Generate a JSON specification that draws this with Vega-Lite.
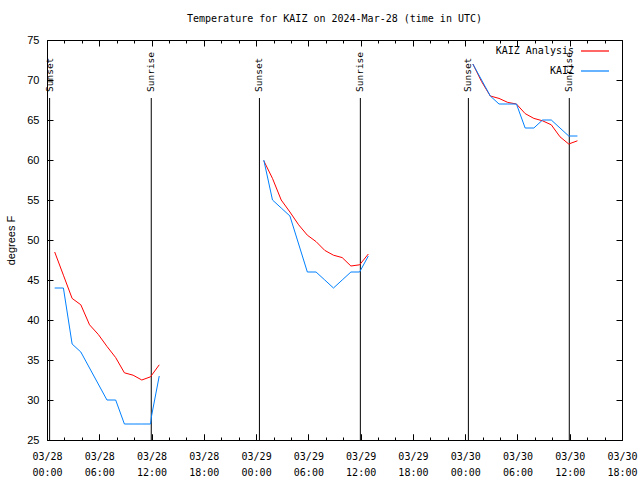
{
  "$schema": "https://vega.github.io/schema/vega-lite/v6.json",
  "autosize": {"type": "none"},
  "padding": {"left": 47, "top": 40, "right": 18, "bottom": 40},
  "width": 575,
  "height": 400,
  "background": "white",
  "config": {
    "view": {"stroke": "black", "strokeWidth": 1},
    "font": "DejaVu Sans Mono",
    "axis": {"domainColor": "black", "tickColor": "black", "labelColor": "black", "titleColor": "black", "grid": false}
  },
  "title": {"text": "Temperature for KAIZ on 2024-Mar-28 (time in UTC)", "font": "DejaVu Sans Mono", "fontSize": 10, "fontWeight": "normal", "anchor": "middle", "offset": 10, "color": "black"},
  "datasets": {
    "temps": [
      {"t": "2024-03-28T00:53:00Z", "temp": 48.5, "series": "KAIZ Analysis", "seg": 1},
      {"t": "2024-03-28T01:53:00Z", "temp": 45.6, "series": "KAIZ Analysis", "seg": 1},
      {"t": "2024-03-28T02:53:00Z", "temp": 42.7, "series": "KAIZ Analysis", "seg": 1},
      {"t": "2024-03-28T03:53:00Z", "temp": 41.9, "series": "KAIZ Analysis", "seg": 1},
      {"t": "2024-03-28T04:53:00Z", "temp": 39.4, "series": "KAIZ Analysis", "seg": 1},
      {"t": "2024-03-28T05:53:00Z", "temp": 38.2, "series": "KAIZ Analysis", "seg": 1},
      {"t": "2024-03-28T06:53:00Z", "temp": 36.7, "series": "KAIZ Analysis", "seg": 1},
      {"t": "2024-03-28T07:53:00Z", "temp": 35.3, "series": "KAIZ Analysis", "seg": 1},
      {"t": "2024-03-28T08:53:00Z", "temp": 33.4, "series": "KAIZ Analysis", "seg": 1},
      {"t": "2024-03-28T09:53:00Z", "temp": 33.1, "series": "KAIZ Analysis", "seg": 1},
      {"t": "2024-03-28T10:53:00Z", "temp": 32.5, "series": "KAIZ Analysis", "seg": 1},
      {"t": "2024-03-28T11:53:00Z", "temp": 32.9, "series": "KAIZ Analysis", "seg": 1},
      {"t": "2024-03-28T12:53:00Z", "temp": 34.4, "series": "KAIZ Analysis", "seg": 1},
      {"t": "2024-03-29T00:53:00Z", "temp": 59.9, "series": "KAIZ Analysis", "seg": 2},
      {"t": "2024-03-29T01:53:00Z", "temp": 57.7, "series": "KAIZ Analysis", "seg": 2},
      {"t": "2024-03-29T02:53:00Z", "temp": 55.0, "series": "KAIZ Analysis", "seg": 2},
      {"t": "2024-03-29T03:53:00Z", "temp": 53.5, "series": "KAIZ Analysis", "seg": 2},
      {"t": "2024-03-29T04:53:00Z", "temp": 51.9, "series": "KAIZ Analysis", "seg": 2},
      {"t": "2024-03-29T05:53:00Z", "temp": 50.6, "series": "KAIZ Analysis", "seg": 2},
      {"t": "2024-03-29T06:53:00Z", "temp": 49.8, "series": "KAIZ Analysis", "seg": 2},
      {"t": "2024-03-29T07:53:00Z", "temp": 48.7, "series": "KAIZ Analysis", "seg": 2},
      {"t": "2024-03-29T08:53:00Z", "temp": 48.1, "series": "KAIZ Analysis", "seg": 2},
      {"t": "2024-03-29T09:53:00Z", "temp": 47.8, "series": "KAIZ Analysis", "seg": 2},
      {"t": "2024-03-29T10:53:00Z", "temp": 46.75, "series": "KAIZ Analysis", "seg": 2},
      {"t": "2024-03-29T11:53:00Z", "temp": 46.9, "series": "KAIZ Analysis", "seg": 2},
      {"t": "2024-03-29T12:53:00Z", "temp": 48.25, "series": "KAIZ Analysis", "seg": 2},
      {"t": "2024-03-30T00:53:00Z", "temp": 72.0, "series": "KAIZ Analysis", "seg": 3},
      {"t": "2024-03-30T01:53:00Z", "temp": 69.8, "series": "KAIZ Analysis", "seg": 3},
      {"t": "2024-03-30T02:53:00Z", "temp": 68.0, "series": "KAIZ Analysis", "seg": 3},
      {"t": "2024-03-30T03:53:00Z", "temp": 67.7, "series": "KAIZ Analysis", "seg": 3},
      {"t": "2024-03-30T04:53:00Z", "temp": 67.2, "series": "KAIZ Analysis", "seg": 3},
      {"t": "2024-03-30T05:53:00Z", "temp": 67.0, "series": "KAIZ Analysis", "seg": 3},
      {"t": "2024-03-30T06:53:00Z", "temp": 65.8, "series": "KAIZ Analysis", "seg": 3},
      {"t": "2024-03-30T07:53:00Z", "temp": 65.2, "series": "KAIZ Analysis", "seg": 3},
      {"t": "2024-03-30T08:53:00Z", "temp": 64.9, "series": "KAIZ Analysis", "seg": 3},
      {"t": "2024-03-30T09:53:00Z", "temp": 64.4, "series": "KAIZ Analysis", "seg": 3},
      {"t": "2024-03-30T10:53:00Z", "temp": 62.9, "series": "KAIZ Analysis", "seg": 3},
      {"t": "2024-03-30T11:53:00Z", "temp": 62.0, "series": "KAIZ Analysis", "seg": 3},
      {"t": "2024-03-30T12:53:00Z", "temp": 62.4, "series": "KAIZ Analysis", "seg": 3},
      {"t": "2024-03-28T00:53:00Z", "temp": 44, "series": "KAIZ", "seg": 1},
      {"t": "2024-03-28T01:53:00Z", "temp": 44, "series": "KAIZ", "seg": 1},
      {"t": "2024-03-28T02:53:00Z", "temp": 37, "series": "KAIZ", "seg": 1},
      {"t": "2024-03-28T03:53:00Z", "temp": 36, "series": "KAIZ", "seg": 1},
      {"t": "2024-03-28T04:53:00Z", "temp": 34, "series": "KAIZ", "seg": 1},
      {"t": "2024-03-28T05:53:00Z", "temp": 32, "series": "KAIZ", "seg": 1},
      {"t": "2024-03-28T06:53:00Z", "temp": 30, "series": "KAIZ", "seg": 1},
      {"t": "2024-03-28T07:53:00Z", "temp": 30, "series": "KAIZ", "seg": 1},
      {"t": "2024-03-28T08:53:00Z", "temp": 27, "series": "KAIZ", "seg": 1},
      {"t": "2024-03-28T09:53:00Z", "temp": 27, "series": "KAIZ", "seg": 1},
      {"t": "2024-03-28T10:53:00Z", "temp": 27, "series": "KAIZ", "seg": 1},
      {"t": "2024-03-28T11:53:00Z", "temp": 27, "series": "KAIZ", "seg": 1},
      {"t": "2024-03-28T12:00:00Z", "temp": 28, "series": "KAIZ", "seg": 1},
      {"t": "2024-03-28T12:53:00Z", "temp": 33, "series": "KAIZ", "seg": 1},
      {"t": "2024-03-29T00:53:00Z", "temp": 60, "series": "KAIZ", "seg": 2},
      {"t": "2024-03-29T01:53:00Z", "temp": 55, "series": "KAIZ", "seg": 2},
      {"t": "2024-03-29T02:53:00Z", "temp": 54, "series": "KAIZ", "seg": 2},
      {"t": "2024-03-29T03:53:00Z", "temp": 53, "series": "KAIZ", "seg": 2},
      {"t": "2024-03-29T04:53:00Z", "temp": 49.5, "series": "KAIZ", "seg": 2},
      {"t": "2024-03-29T05:53:00Z", "temp": 46, "series": "KAIZ", "seg": 2},
      {"t": "2024-03-29T06:53:00Z", "temp": 46, "series": "KAIZ", "seg": 2},
      {"t": "2024-03-29T07:53:00Z", "temp": 45, "series": "KAIZ", "seg": 2},
      {"t": "2024-03-29T08:53:00Z", "temp": 44, "series": "KAIZ", "seg": 2},
      {"t": "2024-03-29T09:53:00Z", "temp": 45, "series": "KAIZ", "seg": 2},
      {"t": "2024-03-29T10:53:00Z", "temp": 46, "series": "KAIZ", "seg": 2},
      {"t": "2024-03-29T11:53:00Z", "temp": 46, "series": "KAIZ", "seg": 2},
      {"t": "2024-03-29T12:53:00Z", "temp": 48, "series": "KAIZ", "seg": 2},
      {"t": "2024-03-30T00:53:00Z", "temp": 72, "series": "KAIZ", "seg": 3},
      {"t": "2024-03-30T01:53:00Z", "temp": 70, "series": "KAIZ", "seg": 3},
      {"t": "2024-03-30T02:53:00Z", "temp": 68, "series": "KAIZ", "seg": 3},
      {"t": "2024-03-30T03:53:00Z", "temp": 67, "series": "KAIZ", "seg": 3},
      {"t": "2024-03-30T04:53:00Z", "temp": 67, "series": "KAIZ", "seg": 3},
      {"t": "2024-03-30T05:53:00Z", "temp": 67, "series": "KAIZ", "seg": 3},
      {"t": "2024-03-30T06:53:00Z", "temp": 64, "series": "KAIZ", "seg": 3},
      {"t": "2024-03-30T07:53:00Z", "temp": 64, "series": "KAIZ", "seg": 3},
      {"t": "2024-03-30T08:53:00Z", "temp": 65, "series": "KAIZ", "seg": 3},
      {"t": "2024-03-30T09:53:00Z", "temp": 65, "series": "KAIZ", "seg": 3},
      {"t": "2024-03-30T10:53:00Z", "temp": 64, "series": "KAIZ", "seg": 3},
      {"t": "2024-03-30T11:53:00Z", "temp": 63, "series": "KAIZ", "seg": 3},
      {"t": "2024-03-30T12:53:00Z", "temp": 63, "series": "KAIZ", "seg": 3}
    ],
    "sun": [
      {"t": "2024-03-28T00:18:00Z", "label": "Sunset"},
      {"t": "2024-03-28T11:58:00Z", "label": "Sunrise"},
      {"t": "2024-03-29T00:23:00Z", "label": "Sunset"},
      {"t": "2024-03-29T11:58:00Z", "label": "Sunrise"},
      {"t": "2024-03-30T00:22:00Z", "label": "Sunset"},
      {"t": "2024-03-30T11:57:00Z", "label": "Sunrise"}
    ]
  },
  "resolve": {"axis": {"x": "independent", "y": "independent"}},
  "layer": [
    {
      "data": {"name": "sun"},
      "mark": {"type": "rule", "color": "black", "strokeWidth": 1},
      "encoding": {
        "x": {"field": "t", "type": "temporal",
          "axis": {"orient": "top", "labels": false, "title": null, "domain": false, "tickSize": -6,
            "values": [1711584000000, 1711605600000, 1711627200000, 1711648800000, 1711670400000, 1711692000000, 1711713600000, 1711735200000, 1711756800000, 1711778400000, 1711800000000, 1711821600000]}},
        "y": {"datum": 25, "type": "quantitative", "axis": null},
        "y2": {"datum": 67.75}
      }
    },
    {
      "data": {"name": "sun"},
      "mark": {"type": "rule", "color": "black", "strokeWidth": 1, "strokeOpacity": 0},
      "encoding": {
        "x": {"field": "t", "type": "temporal",
          "axis": {"orient": "bottom", "labels": false, "title": null, "domain": false, "tickSize": -3,
            "values": [1711584000000, 1711591200000, 1711598400000, 1711605600000, 1711612800000, 1711620000000, 1711627200000, 1711634400000, 1711641600000, 1711648800000, 1711656000000, 1711663200000, 1711670400000, 1711677600000, 1711684800000, 1711692000000, 1711699200000, 1711706400000, 1711713600000, 1711720800000, 1711728000000, 1711735200000, 1711742400000, 1711749600000, 1711756800000, 1711764000000, 1711771200000, 1711778400000, 1711785600000, 1711792800000, 1711800000000, 1711807200000, 1711814400000, 1711821600000]}},
        "y": {"datum": 25, "type": "quantitative", "axis": null},
        "y2": {"datum": 67.75}
      }
    },
    {
      "data": {"name": "sun"},
      "mark": {"type": "text", "angle": 270, "align": "left", "baseline": "middle", "font": "DejaVu Sans Mono", "fontSize": 9.5, "color": "black"},
      "encoding": {
        "x": {"field": "t", "type": "temporal",
          "axis": {"orient": "top", "labels": false, "title": null, "domain": false, "tickSize": -3,
            "values": [1711584000000, 1711591200000, 1711598400000, 1711605600000, 1711612800000, 1711620000000, 1711627200000, 1711634400000, 1711641600000, 1711648800000, 1711656000000, 1711663200000, 1711670400000, 1711677600000, 1711684800000, 1711692000000, 1711699200000, 1711706400000, 1711713600000, 1711720800000, 1711728000000, 1711735200000, 1711742400000, 1711749600000, 1711756800000, 1711764000000, 1711771200000, 1711778400000, 1711785600000, 1711792800000, 1711800000000, 1711807200000, 1711814400000, 1711821600000]}},
        "y": {"datum": 68.5, "type": "quantitative", "axis": null},
        "text": {"field": "label"}
      }
    },
    {
      "data": {"name": "temps"},
      "transform": [{"filter": "datum.series === 'KAIZ Analysis'"}],
      "mark": {"type": "line", "strokeWidth": 1, "interpolate": "linear"},
      "encoding": {
        "x": {"field": "t", "type": "temporal",
          "scale": {"type": "utc", "domain": [1711584000000, 1711821600000], "nice": false},
          "axis": {"orient": "bottom", "title": null, "domain": false, "labelOverlap": false, "labelFlush": false, "tickSize": -6,
            "values": [1711584000000, 1711605600000, 1711627200000, 1711648800000, 1711670400000, 1711692000000, 1711713600000, 1711735200000, 1711756800000, 1711778400000, 1711800000000, 1711821600000],
            "format": "%m/%d", "labelPadding": 17, "labelBaseline": "top",
            "labelFont": "DejaVu Sans Mono", "labelFontSize": 10}},
        "y": {"field": "temp", "type": "quantitative",
          "scale": {"domain": [25, 75], "nice": false, "zero": false},
          "axis": {"orient": "left", "title": "degrees F", "domain": false, "values": [25,30,35,40,45,50,55,60,65,70,75],
            "tickSize": -6, "labelPadding": 14, "labelFont": "Liberation Sans", "labelFontSize": 11,
            "titleFont": "Liberation Sans", "titleFontSize": 11, "titleFontWeight": "normal", "titlePadding": 10}},
        "color": {"field": "series", "type": "nominal",
          "scale": {"domain": ["KAIZ Analysis", "KAIZ"], "range": ["#ff0000", "#0080ff"]},
          "legend": {"orient": "none", "legendX": 533, "legendY": -4, "title": null, "symbolType": "stroke", "symbolSize": 784, "symbolStrokeWidth": 1.2,
            "labelAlign": "right", "labelOffset": -36, "labelFont": "DejaVu Sans Mono", "labelFontSize": 10, "labelColor": "black", "rowPadding": -24.5}},
        "detail": {"field": "seg", "type": "nominal"}
      }
    },
    {
      "data": {"name": "temps"},
      "transform": [{"filter": "datum.series === 'KAIZ'"}],
      "mark": {"type": "line", "strokeWidth": 1, "interpolate": "linear"},
      "encoding": {
        "x": {"field": "t", "type": "temporal",
          "axis": {"orient": "bottom", "title": null, "domain": false, "labelOverlap": false, "labelFlush": false, "tickSize": -6,
            "values": [1711584000000, 1711605600000, 1711627200000, 1711648800000, 1711670400000, 1711692000000, 1711713600000, 1711735200000, 1711756800000, 1711778400000, 1711800000000, 1711821600000],
            "format": "%H:%M", "labelPadding": 33, "labelBaseline": "top",
            "labelFont": "DejaVu Sans Mono", "labelFontSize": 10}},
        "y": {"field": "temp", "type": "quantitative",
          "axis": {"orient": "right", "labels": false, "title": null, "domain": false, "values": [25,30,35,40,45,50,55,60,65,70,75], "tickSize": -6}},
        "color": {"field": "series", "type": "nominal"},
        "detail": {"field": "seg", "type": "nominal"}
      }
    }
  ]
}
